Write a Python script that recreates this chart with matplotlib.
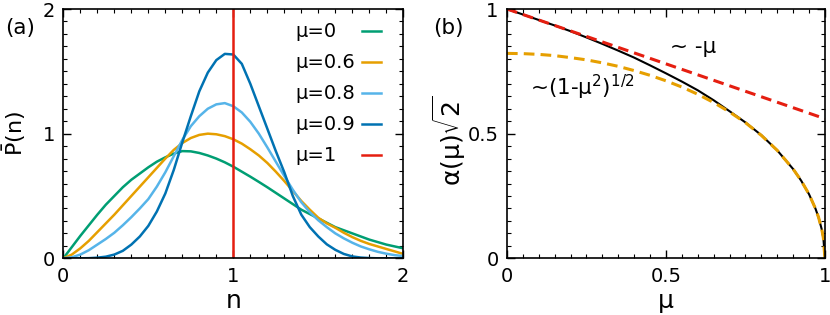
import matplotlib
matplotlib.use('Agg')
import matplotlib.pyplot as plt
from matplotlib.ticker import MultipleLocator, FormatStrFormatter

plt.rcParams['font.family'] = ['DejaVu Sans']
plt.rcParams['mathtext.fontset'] = 'dejavusans'
plt.rcParams['mathtext.default'] = 'regular'

# (a) distributions, n in steps of 0.05
n = [0.0, 0.05, 0.1, 0.15, 0.2, 0.25, 0.3, 0.35, 0.4, 0.45, 0.5,
     0.55, 0.6, 0.65, 0.7, 0.75, 0.8, 0.85, 0.9, 0.95, 1.0,
     1.05, 1.1, 1.15, 1.2, 1.25, 1.3, 1.35, 1.4, 1.45, 1.5,
     1.55, 1.6, 1.65, 1.7, 1.75, 1.8, 1.85, 1.9, 1.95, 2.0]
p_mu0 = [0.0, 0.09, 0.18, 0.265, 0.35, 0.43, 0.50, 0.57, 0.63, 0.68, 0.73,
         0.775, 0.81, 0.84, 0.86, 0.858, 0.845, 0.825, 0.80, 0.77, 0.735,
         0.695, 0.655, 0.613, 0.57, 0.525, 0.48, 0.435, 0.39, 0.355, 0.32,
         0.285, 0.25, 0.225, 0.20, 0.175, 0.15, 0.13, 0.11, 0.095, 0.08]
p_mu06 = [0.0, 0.03, 0.08, 0.14, 0.21, 0.28, 0.35, 0.425, 0.50, 0.575, 0.65,
          0.725, 0.80, 0.87, 0.925, 0.965, 0.99, 1.0, 0.995, 0.98, 0.955,
          0.92, 0.875, 0.825, 0.765, 0.695, 0.62, 0.54, 0.46, 0.39, 0.325,
          0.28, 0.245, 0.205, 0.17, 0.14, 0.115, 0.095, 0.075, 0.055, 0.035]
p_mu08 = [0.0, 0.008, 0.03, 0.065, 0.11, 0.155, 0.205, 0.265, 0.33, 0.40, 0.475,
          0.575, 0.69, 0.82, 0.95, 1.06, 1.14, 1.20, 1.235, 1.245, 1.22,
          1.17, 1.095, 1.0, 0.89, 0.775, 0.66, 0.55, 0.45, 0.37, 0.305,
          0.25, 0.20, 0.16, 0.125, 0.095, 0.072, 0.052, 0.037, 0.025, 0.018]
p_mu09 = [0.0, 0.0, 0.0, 0.001, 0.005, 0.013, 0.03, 0.06, 0.11, 0.175, 0.26,
          0.375, 0.52, 0.71, 0.93, 1.14, 1.34, 1.49, 1.59, 1.64, 1.635,
          1.56, 1.40, 1.22, 1.04, 0.86, 0.69, 0.50, 0.35, 0.25, 0.175,
          0.112, 0.068, 0.035, 0.015, 0.006, 0.002, 0.0, 0.0, 0.0, 0.0]
curves = [p_mu0, p_mu06, p_mu08, p_mu09]
labels = ['\u03bc=0', '\u03bc=0.6', '\u03bc=0.8', '\u03bc=0.9', '\u03bc=1']
colors = ['#009e73', '#e69f00', '#56b4e9', '#0072b2', '#e51e10']

# (b) alpha(mu) sqrt(2) and its two asymptotes
mu = [0.0, 0.05, 0.1, 0.15, 0.2, 0.25, 0.3, 0.35, 0.4, 0.45, 0.5,
      0.55, 0.6, 0.65, 0.7, 0.75, 0.8, 0.85, 0.9, 0.925, 0.95,
      0.97, 0.98, 0.99, 0.995, 1.0]
alpha = [1.0, 0.978, 0.956, 0.934, 0.911, 0.886, 0.86, 0.833, 0.805, 0.774, 0.742,
         0.709, 0.674, 0.634, 0.59, 0.545, 0.494, 0.433, 0.358, 0.312, 0.257,
         0.2, 0.164, 0.116, 0.082, 0.0]
sqrt_fit = [0.822, 0.821, 0.818, 0.813, 0.805, 0.796, 0.784, 0.770, 0.753, 0.734, 0.712,
            0.687, 0.658, 0.625, 0.587, 0.544, 0.493, 0.433, 0.358, 0.312, 0.257,
            0.2, 0.164, 0.116, 0.082, 0.0]
lin_mu = [0.0, 1.0]
lin_fit = [1.0, 0.56]

fig = plt.figure(figsize=(8.3, 3.15), dpi=100)
ax1 = fig.add_axes([0.0763, 0.18, 0.4096, 0.7914])
ax2 = fig.add_axes([0.6108, 0.18, 0.3831, 0.7914])

for y, c in zip(curves, colors):
    ax1.plot(n, y, color=c, lw=1.8)
ax1.axvline(1.0, color=colors[4], lw=1.8)
ax1.set_xlim(0, 2)
ax1.set_ylim(0, 2)
ax1.xaxis.set_major_locator(MultipleLocator(1))
ax1.yaxis.set_major_locator(MultipleLocator(1))
ax1.xaxis.set_minor_locator(MultipleLocator(0.1))
ax1.yaxis.set_minor_locator(MultipleLocator(0.1))
ax1.set_xlabel('n', fontsize=18)
ax1.set_ylabel(r'$\bar{P}$(n)', fontsize=16)
ax1.xaxis.set_label_coords(0.5, -0.125)
ax1.yaxis.set_label_coords(-0.103, 0.5)

# gnuplot style key: label first, sample line after it
for i, (lab, c) in enumerate(zip(labels, colors)):
    yk = 0.91 - i * 0.1243
    ax1.text(0.6835, yk, lab, transform=ax1.transAxes, va='center', fontsize=14)
    ax1.plot([0.8776, 0.9335], [yk, yk], transform=ax1.transAxes, color=c, lw=1.8)

ax2.plot(mu, alpha, color='black', lw=1.5)
ax2.plot(lin_mu, lin_fit, color='#e51e10', lw=2.2, dashes=(3.5, 2))
ax2.plot(mu, sqrt_fit, color='#e69f00', lw=2.2, dashes=(3.5, 2))
ax2.set_xlim(0, 1)
ax2.set_ylim(0, 1)
ax2.xaxis.set_major_locator(MultipleLocator(0.5))
ax2.yaxis.set_major_locator(MultipleLocator(0.5))
ax2.xaxis.set_minor_locator(MultipleLocator(0.05))
ax2.yaxis.set_minor_locator(MultipleLocator(0.05))
ax2.xaxis.set_major_formatter(FormatStrFormatter('%g'))
ax2.yaxis.set_major_formatter(FormatStrFormatter('%g'))
ax2.set_xlabel('\u03bc', fontsize=18)
ax2.set_ylabel('\u03b1(\u03bc)$\\sqrt{2}$', fontsize=18)
ax2.xaxis.set_label_coords(0.5, -0.125)
ax2.yaxis.set_label_coords(-0.122, 0.47)
ax2.text(0.514, 0.824, '~ -\u03bc', fontsize=15.5, va='baseline')
ax2.text(0.071, 0.655, '~(1-\u03bc$^2$)$^{1/2}$', fontsize=15.5, va='baseline')

for ax in (ax1, ax2):
    ax.tick_params(which='both', direction='in', top=True, right=True, labelsize=14)
    ax.tick_params(which='major', length=6, width=1, pad=6)
    ax.tick_params(which='minor', length=3, width=0.8)
    for s in ax.spines.values():
        s.set_linewidth(1.2)

fig.text(0.006, 0.911, '(a)', fontsize=15.5, va='center')
fig.text(0.5217, 0.911, '(b)', fontsize=15.5, va='center')

fig.savefig('out.png', dpi=100)
